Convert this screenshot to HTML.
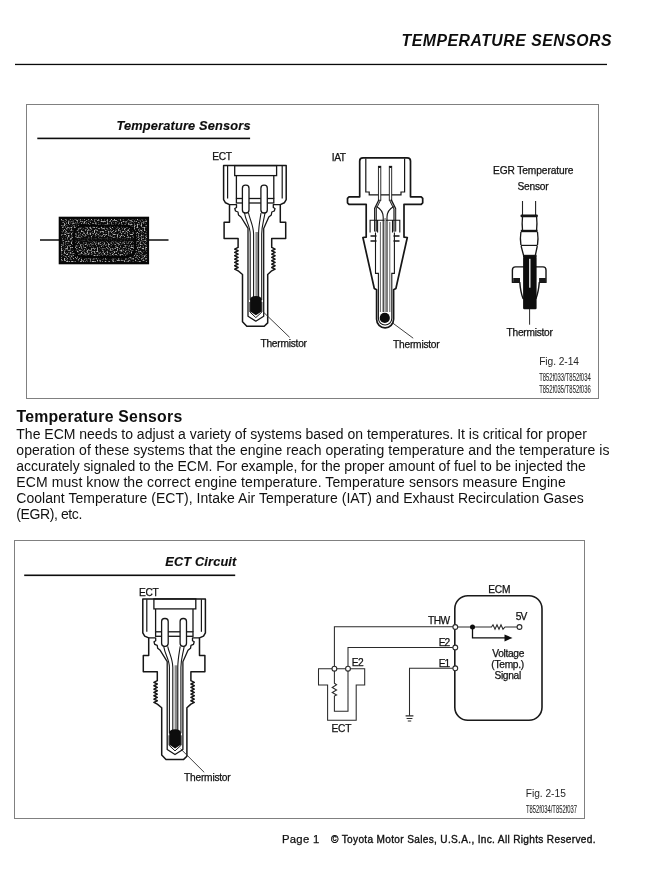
<!DOCTYPE html>
<html><head><meta charset="utf-8">
<style>
html,body{margin:0;padding:0;background:#fff;}
body{width:663px;height:894px;overflow:hidden;}
svg{display:block;font-family:"Liberation Sans",sans-serif;will-change:transform;}
</style></head><body>
<svg width="663" height="894" viewBox="0 0 663 894">
<defs>
<filter id="noise" x="0" y="0" width="100%" height="100%">
<feTurbulence type="fractalNoise" baseFrequency="0.7" numOctaves="1" seed="3" result="n"/>
<feColorMatrix in="n" type="matrix" values="0 0 0 0 0.5  0 0 0 0 0.5  0 0 0 0 0.5  0 0 0 4 -1.9" result="d"/>
<feComposite in="d" in2="SourceGraphic" operator="in"/>
</filter>
<pattern id="speck" width="4" height="4" patternUnits="userSpaceOnUse"><rect width="4" height="4" fill="#fff"/></pattern>
</defs>
<text x="401.5" y="45.5" font-size="15.8" font-weight="bold" font-style="italic" fill="#0d0d0d" textLength="210" lengthAdjust="spacing" >TEMPERATURE SENSORS</text>
<rect x="15" y="63.8" width="592" height="1.3" fill="#0a0a0a"/>
<rect x="26.5" y="104.5" width="572" height="294" fill="none" stroke="#808080" stroke-width="1"/>
<text x="116.5" y="129.8" font-size="12.8" font-weight="bold" font-style="italic" fill="#0d0d0d" stroke="#0d0d0d" stroke-width="0.15" textLength="134" lengthAdjust="spacing" >Temperature Sensors</text>
<rect x="37.3" y="137.6" width="212.8" height="1.6" fill="#0d0d0d"/>
<line x1="40" y1="240" x2="168.5" y2="240" stroke="#0d0d0d" stroke-width="1.6"/>
<rect x="59.5" y="217.5" width="88.8" height="46" fill="#0a0a0a"/>
<rect x="61" y="219" width="86" height="43" fill="url(#speck)" filter="url(#noise)"/>
<rect x="74" y="225.6" width="61" height="31.6" rx="9" fill="none" stroke="#050505" stroke-width="2.2"/>
<rect x="74" y="237.8" width="61" height="4" fill="#0a0a0a" opacity="0.75"/>
<rect x="59.5" y="217.5" width="88.8" height="46" fill="none" stroke="#050505" stroke-width="1.6"/>
<g id="ect"><path d="M223.6,165.6 L223.6,199.6 L225.5,202.8 L229.5,204.6 L229.5,222.3 L224.1,222.3 L224.1,238.4 L238.1,238.4 L238.1,247.4 L234.7,249.07 L238.1,250.74 L234.7,252.41 L238.1,254.09 L234.7,255.76 L238.1,257.43 L234.7,259.1 L238.1,260.77 L234.7,262.44 L238.1,264.11 L234.7,265.79 L238.1,267.46 L234.7,269.13 L238.1,270.8 L242.5,274.5 L242.5,321.7 L246.8,326.3 L255.1,326.3 L264.2,326.3 L267.7,322.9 L267.7,274.5 L271.7,270.8 L275.1,269.13 L271.7,267.46 L275.1,265.79 L271.7,264.11 L275.1,262.44 L271.7,260.77 L275.1,259.1 L271.7,257.43 L275.1,255.76 L271.7,254.09 L275.1,252.41 L271.7,250.74 L275.1,249.07 L271.7,247.4 L271.7,238.4 L285.7,238.4 L285.7,222.3 L280.3,222.3 L280.3,204.6 L284.3,202.8 L286.2,199.6 L286.2,165.6 Z" fill="none" stroke="#161616" stroke-width="1.5" stroke-linejoin="round"/>
<line x1="227.6" y1="166" x2="227.6" y2="198.5" stroke="#161616" stroke-width="1.2"/>
<line x1="282.2" y1="166" x2="282.2" y2="198.5" stroke="#161616" stroke-width="1.2"/>
<rect x="234.7" y="165.6" width="41.9" height="10" fill="none" stroke="#161616" stroke-width="1.3"/>
<path d="M236.4,175.6 L236.4,198.5 M273.8,175.6 L273.8,198.5" stroke="#161616" stroke-width="1.3"/>
<rect x="236.4" y="198.5" width="37.4" height="4.5" fill="none" stroke="#161616" stroke-width="1.3"/>
<path d="M229.5,204.6 L236.5,204.6 L236.5,207.5 L234.8,208.5 L235.5,211 L238,212 L238.5,215 L241,217 L248,228.4 L248,316.2 L255.8,321.2 L263.7,316.2 L263.7,228.4 L268.8,217 L271.3,215 L271.8,212 L274.3,211 L275,208.5 L273.3,207.5 L273.3,204.6 L280.3,204.6" fill="none" stroke="#161616" stroke-width="1.3" stroke-linejoin="round"/>
<rect x="242.4" y="185.2" width="6.6" height="27.8" rx="3" fill="#fff" stroke="#161616" stroke-width="1.3"/>
<rect x="260.9" y="185.2" width="6.4" height="27.8" rx="3" fill="#fff" stroke="#161616" stroke-width="1.3"/>
<rect x="255.4" y="232" width="2.8" height="66" fill="#8a8a8a"/>
<path d="M244.5,213 C246,222 250.2,226 250.2,234 L250.2,300" fill="none" stroke="#161616" stroke-width="1.1"/>
<path d="M248.5,213 C250,220 253.6,226 253.6,234 L253.6,300" fill="none" stroke="#161616" stroke-width="1.1"/>
<path d="M265,213 C263.5,222 261.7,226 261.7,234 L261.7,300" fill="none" stroke="#161616" stroke-width="1.1"/>
<path d="M261,213 C260,220 258.6,226 258.6,234 L258.6,300" fill="none" stroke="#161616" stroke-width="1.1"/>
<path d="M249.9,302 L249.9,312 L255.8,317.6 L261.9,312 L261.9,302" fill="none" stroke="#161616" stroke-width="1"/>
<path d="M250.1,300 Q250.1,296 255.9,296 Q261.7,296 261.7,300 L261.7,311.5 L255.9,315.2 L250.1,311.5 Z" fill="#0d0d0d"/></g>
<line x1="263.3" y1="312" x2="289.6" y2="337.3" stroke="#2a2a2a" stroke-width="0.9"/>
<text x="212.3" y="159.6" font-size="10.2" font-weight="normal" font-style="normal" fill="#111" stroke="#111" stroke-width="0.25" textLength="19.8" lengthAdjust="spacing" >ECT</text>
<text x="260.4" y="347.3" font-size="10.2" font-weight="normal" font-style="normal" fill="#111" stroke="#111" stroke-width="0.25" textLength="46.6" lengthAdjust="spacing" >Thermistor</text>
<path d="M385.1,157.9 L363,157.9 Q359.7,157.9 359.7,161 L359.7,196.8 L349,196.8 L347.5,198.3 L347.5,202.8 L349,204.3 L366.2,204.3 L366.2,237.2 L362.9,237.5 L374.3,288.5 L376.6,289.8 L376.6,319.3 A8.5,8.5 0 0 0 393.6,319.3 L393.6,289.8 L395.9,288.5 L407.3,237.5 L404,237.2 L404,204.3 L421.2,204.3 L422.7,202.8 L422.7,198.3 L421.2,196.8 L410.5,196.8 L410.5,161 Q410.5,157.9 407.2,157.9 Z" fill="none" stroke="#161616" stroke-width="1.7" stroke-linejoin="round"/>
<path d="M365.8,158.5 L365.8,192 L369.2,192 L369.2,194.8 L401,194.8 L401,192 L404.6,192 L404.6,158.5" fill="none" stroke="#161616" stroke-width="1.2"/>
<rect x="378.4" y="166.3" width="2.4" height="34" fill="#fff" stroke="#161616" stroke-width="0.9"/>
<rect x="378.4" y="166" width="2.4" height="2" fill="#161616"/>
<rect x="389.3" y="166.3" width="2.4" height="34" fill="#fff" stroke="#161616" stroke-width="0.9"/>
<rect x="389.3" y="166" width="2.4" height="2" fill="#161616"/>
<path d="M379.6,200 L375.4,208.5 L375.4,231.5 M390.5,200 L394.8,208.5 L394.8,231.5" fill="none" stroke="#161616" stroke-width="2.8"/>
<path d="M379.6,200.5 L375.4,209 L375.4,231 M390.5,200.5 L394.8,209 L394.8,231" fill="none" stroke="#ddd" stroke-width="0.7"/>
<path d="M370.1,232.5 L370.1,220.2 L399.8,220.2 L399.8,232.5 M377.6,220.2 L377.6,232.5 M392.5,220.2 L392.5,232.5" fill="none" stroke="#161616" stroke-width="1.1"/>
<path d="M370.5,235.9 L376.5,235.9 M370.5,240.9 L376.5,240.9 M393.5,235.9 L399.5,235.9 M393.5,240.9 L399.5,240.9" stroke="#161616" stroke-width="1.5"/>
<path d="M376.5,206.5 Q383,210 383.2,217 L383.2,312 M393.7,206.5 Q387.2,210 387,217 L387,312" fill="none" stroke="#161616" stroke-width="1.1"/>
<rect x="384.3" y="218" width="1.7" height="94" fill="#a0a0a0"/>
<path d="M380.4,222 L380.4,312 M389.8,222 L389.8,312" fill="none" stroke="#555" stroke-width="0.9"/>
<path d="M375.5,232.5 L375.5,273.4 L378.4,273.4 L378.4,318.3 A6.3,6.3 0 0 0 391.8,318.3 L391.8,273.4 L394.4,273.4 L394.4,232.5" fill="none" stroke="#161616" stroke-width="1.1"/>
<circle cx="384.8" cy="317.9" r="5.1" fill="#0d0d0d"/>
<line x1="392.4" y1="322.8" x2="413.2" y2="338.2" stroke="#2a2a2a" stroke-width="0.9"/>
<text x="331.8" y="161" font-size="10.2" font-weight="normal" font-style="normal" fill="#111" stroke="#111" stroke-width="0.25" textLength="14.3" lengthAdjust="spacing" >IAT</text>
<text x="393.1" y="347.8" font-size="10.2" font-weight="normal" font-style="normal" fill="#111" stroke="#111" stroke-width="0.25" textLength="46.6" lengthAdjust="spacing" >Thermistor</text>
<path d="M522.5,201 L522.5,215 M535.6,201 L535.6,215" stroke="#222" stroke-width="1.1"/>
<path d="M522.5,217 Q521.8,223.5 522.5,230 M536.6,217 Q537.3,223.5 536.6,230" fill="none" stroke="#161616" stroke-width="1.3"/>
<path d="M520.9,232 Q519.9,238.5 520.9,245 M537.5,232 Q538.5,238.5 537.5,245" fill="none" stroke="#161616" stroke-width="1.3"/>
<path d="M521.1,246 L523.6,255.5 M537.3,246 L535.3,255.5" fill="none" stroke="#161616" stroke-width="1.3"/>
<rect x="520.5" y="214.4" width="17.4" height="2.9" rx="1.2" fill="#151515"/>
<rect x="520.8" y="229.8" width="16.8" height="2.4" fill="#151515"/>
<line x1="520.8" y1="245.4" x2="537.6" y2="245.4" stroke="#161616" stroke-width="1.2"/>
<rect x="523" y="254.8" width="13.6" height="2.2" fill="#151515"/>
<path d="M519.8,282.4 Q520.5,292 523,298.5 L536,298.5 Q538.5,292 539.3,282.4 L546,282.4 L546,270 Q546,266.9 543,266.9 L515.5,266.9 Q512.4,266.9 512.4,270 L512.4,282.4 Z" fill="#fff" stroke="#161616" stroke-width="1.4" stroke-linejoin="round"/>
<rect x="513.2" y="278" width="6.8" height="4.6" fill="#1a1a1a"/>
<rect x="539.1" y="278" width="6.8" height="4.6" fill="#1a1a1a"/>
<rect x="523.1" y="256.6" width="13.5" height="52.6" rx="1.2" fill="#0d0d0d"/>
<rect x="529.1" y="258.8" width="1.4" height="28.9" fill="#eee"/>
<line x1="529.6" y1="309" x2="529.6" y2="324.7" stroke="#2a2a2a" stroke-width="1"/>
<text x="493" y="174" font-size="10.2" font-weight="normal" font-style="normal" fill="#111" stroke="#111" stroke-width="0.25" textLength="80.5" lengthAdjust="spacing" >EGR Temperature</text>
<text x="517.4" y="189.8" font-size="10.2" font-weight="normal" font-style="normal" fill="#111" stroke="#111" stroke-width="0.25" textLength="31.3" lengthAdjust="spacing" >Sensor</text>
<text x="506.6" y="335.5" font-size="10.2" font-weight="normal" font-style="normal" fill="#111" stroke="#111" stroke-width="0.25" textLength="46.2" lengthAdjust="spacing" >Thermistor</text>
<text x="539.2" y="364.8" font-size="10.2" font-weight="normal" font-style="normal" fill="#262626" textLength="39.8" lengthAdjust="spacing" >Fig. 2-14</text>
<text x="539.2" y="381.2" font-size="10" font-weight="normal" font-style="normal" fill="#2a2a2a" stroke="#2a2a2a" stroke-width="0.1" textLength="51.5" lengthAdjust="spacingAndGlyphs" >T852f033/T852f034</text>
<text x="539.2" y="392.7" font-size="10" font-weight="normal" font-style="normal" fill="#2a2a2a" stroke="#2a2a2a" stroke-width="0.1" textLength="51.5" lengthAdjust="spacingAndGlyphs" >T852f035/T852f036</text>
<text x="16.4" y="422.3" font-size="15.8" font-weight="bold" font-style="normal" fill="#0d0d0d" textLength="165.8" lengthAdjust="spacing" >Temperature Sensors</text>
<text x="16.3" y="438.8" font-size="14" font-weight="normal" font-style="normal" fill="#111" textLength="570.7" lengthAdjust="spacing" >The ECM needs to adjust a variety of systems based on temperatures. It is critical for proper</text>
<text x="16.3" y="454.85" font-size="14" font-weight="normal" font-style="normal" fill="#111" textLength="593.1" lengthAdjust="spacing" >operation of these systems that the engine reach operating temperature and the temperature is</text>
<text x="16.3" y="470.9" font-size="14" font-weight="normal" font-style="normal" fill="#111" textLength="569.6" lengthAdjust="spacing" >accurately signaled to the ECM. For example, for the proper amount of fuel to be injected the</text>
<text x="16.3" y="486.95" font-size="14" font-weight="normal" font-style="normal" fill="#111" textLength="549.5" lengthAdjust="spacing" >ECM must know the correct engine temperature. Temperature sensors measure Engine</text>
<text x="16.3" y="503" font-size="14" font-weight="normal" font-style="normal" fill="#111" textLength="567.4" lengthAdjust="spacing" >Coolant Temperature (ECT), Intake Air Temperature (IAT) and Exhaust Recirculation Gases</text>
<text x="16.3" y="519.05" font-size="14" font-weight="normal" font-style="normal" fill="#111" textLength="66" lengthAdjust="spacing" >(EGR), etc.</text>
<rect x="14.5" y="540.5" width="570" height="278" fill="none" stroke="#808080" stroke-width="1"/>
<text x="165.3" y="566.1" font-size="12.8" font-weight="bold" font-style="italic" fill="#0d0d0d" stroke="#0d0d0d" stroke-width="0.15" textLength="71" lengthAdjust="spacing" >ECT Circuit</text>
<rect x="24.2" y="574.5" width="211" height="1.6" fill="#0d0d0d"/>
<use href="#ect" transform="translate(-80.8,433.3)"/>
<line x1="180.6" y1="748.8" x2="204.2" y2="772.3" stroke="#2a2a2a" stroke-width="0.9"/>
<text x="139" y="596.1" font-size="10.2" font-weight="normal" font-style="normal" fill="#111" stroke="#111" stroke-width="0.25" textLength="19.8" lengthAdjust="spacing" >ECT</text>
<text x="184.1" y="780.5" font-size="10.2" font-weight="normal" font-style="normal" fill="#111" stroke="#111" stroke-width="0.25" textLength="46.6" lengthAdjust="spacing" >Thermistor</text>
<path d="M334.4,668.7 L334.4,626.7 L455.3,626.7 M348,668.7 L348,647.5 L455.3,647.5 M409.5,715.7 L409.5,668.3 L455.3,668.3" fill="none" stroke="#2a2a2a" stroke-width="1.05"/>
<path d="M318.5,668.7 L364.7,668.7 L364.7,685 L356.2,685 L356.2,720.3 L327.6,720.3 L327.6,685 L318.5,685 Z" fill="none" stroke="#2a2a2a" stroke-width="1.05"/>
<path d="M334.4,668.7 L334.4,683.2 L336.6,684.8 L332.2,687.5 L336.6,690 L332.2,692.5 L336.6,695 L334.4,696 L334.4,711.2 L348,711.2 L348,668.7" fill="none" stroke="#2a2a2a" stroke-width="1.05"/>
<circle cx="334.4" cy="668.7" r="2.4" fill="#fff" stroke="#2a2a2a" stroke-width="1.1"/>
<circle cx="348" cy="668.7" r="2.4" fill="#fff" stroke="#2a2a2a" stroke-width="1.1"/>
<path d="M405.6,715.9 L413.4,715.9 M406.6,718.5 L412.4,718.5 M407.8,721 L411.2,721" stroke="#2a2a2a" stroke-width="1.1"/>
<rect x="454.8" y="595.7" width="87.2" height="124.6" rx="13" fill="none" stroke="#1a1a1a" stroke-width="1.6"/>
<path d="M457.7,627 L491.5,627 L493,624.8 L495,629.2 L497,624.8 L499,629.2 L501,624.8 L503,629.2 L505,627 L517.1,627" fill="none" stroke="#2a2a2a" stroke-width="1.1"/>
<circle cx="455.3" cy="627" r="2.4" fill="#fff" stroke="#2a2a2a" stroke-width="1.1"/>
<circle cx="455.3" cy="647.5" r="2.4" fill="#fff" stroke="#2a2a2a" stroke-width="1.1"/>
<circle cx="455.3" cy="668.3" r="2.4" fill="#fff" stroke="#2a2a2a" stroke-width="1.1"/>
<circle cx="519.5" cy="627" r="2.4" fill="#fff" stroke="#2a2a2a" stroke-width="1.1"/>
<circle cx="472.5" cy="627" r="2.5" fill="#0d0d0d"/>
<path d="M472.5,627 L472.5,637.9 L506,637.9" fill="none" stroke="#0d0d0d" stroke-width="1.3"/>
<path d="M504.5,634.4 L512.5,637.9 L504.5,641.4 Z" fill="#0d0d0d"/>
<text x="488.2" y="592.6" font-size="10.2" font-weight="normal" font-style="normal" fill="#111" stroke="#111" stroke-width="0.25" textLength="22.3" lengthAdjust="spacing" >ECM</text>
<text x="427.9" y="623.8" font-size="10.2" font-weight="normal" font-style="normal" fill="#111" stroke="#111" stroke-width="0.25" textLength="22.2" lengthAdjust="spacing" >THW</text>
<text x="438.8" y="645.7" font-size="10.2" font-weight="normal" font-style="normal" fill="#111" stroke="#111" stroke-width="0.25" textLength="11.3" lengthAdjust="spacing" >E2</text>
<text x="438.8" y="666.5" font-size="10.2" font-weight="normal" font-style="normal" fill="#111" stroke="#111" stroke-width="0.25" textLength="11.3" lengthAdjust="spacing" >E1</text>
<text x="515.8" y="619.8" font-size="10.2" font-weight="normal" font-style="normal" fill="#111" stroke="#111" stroke-width="0.25" textLength="11.5" lengthAdjust="spacing" >5V</text>
<text x="492.2" y="656.9" font-size="10.2" font-weight="normal" font-style="normal" fill="#111" stroke="#111" stroke-width="0.25" textLength="32.2" lengthAdjust="spacing" >Voltage</text>
<text x="491.3" y="667.8" font-size="10.2" font-weight="normal" font-style="normal" fill="#111" stroke="#111" stroke-width="0.25" textLength="32.9" lengthAdjust="spacing" >(Temp.)</text>
<text x="494.4" y="678.6" font-size="10.2" font-weight="normal" font-style="normal" fill="#111" stroke="#111" stroke-width="0.25" textLength="26.8" lengthAdjust="spacing" >Signal</text>
<text x="351.8" y="666" font-size="10.2" font-weight="normal" font-style="normal" fill="#111" stroke="#111" stroke-width="0.25" textLength="11.8" lengthAdjust="spacing" >E2</text>
<text x="331.5" y="732" font-size="10.2" font-weight="normal" font-style="normal" fill="#111" stroke="#111" stroke-width="0.25" textLength="20" lengthAdjust="spacing" >ECT</text>
<text x="525.8" y="796.6" font-size="10.2" font-weight="normal" font-style="normal" fill="#262626" textLength="40" lengthAdjust="spacing" >Fig. 2-15</text>
<text x="526" y="813.4" font-size="10" font-weight="normal" font-style="normal" fill="#2a2a2a" stroke="#2a2a2a" stroke-width="0.1" textLength="51" lengthAdjust="spacingAndGlyphs" >T852f034/T852f037</text>
<text x="282" y="843.3" font-size="11.3" font-weight="normal" font-style="normal" fill="#111" stroke="#111" stroke-width="0.25" textLength="37.2" lengthAdjust="spacing" >Page 1</text>
<text x="331" y="843.3" font-size="10.1" font-weight="normal" font-style="normal" fill="#111" stroke="#111" stroke-width="0.35" textLength="264.5" lengthAdjust="spacing" >© Toyota Motor Sales, U.S.A., Inc. All Rights Reserved.</text>
</svg>
</body></html>
